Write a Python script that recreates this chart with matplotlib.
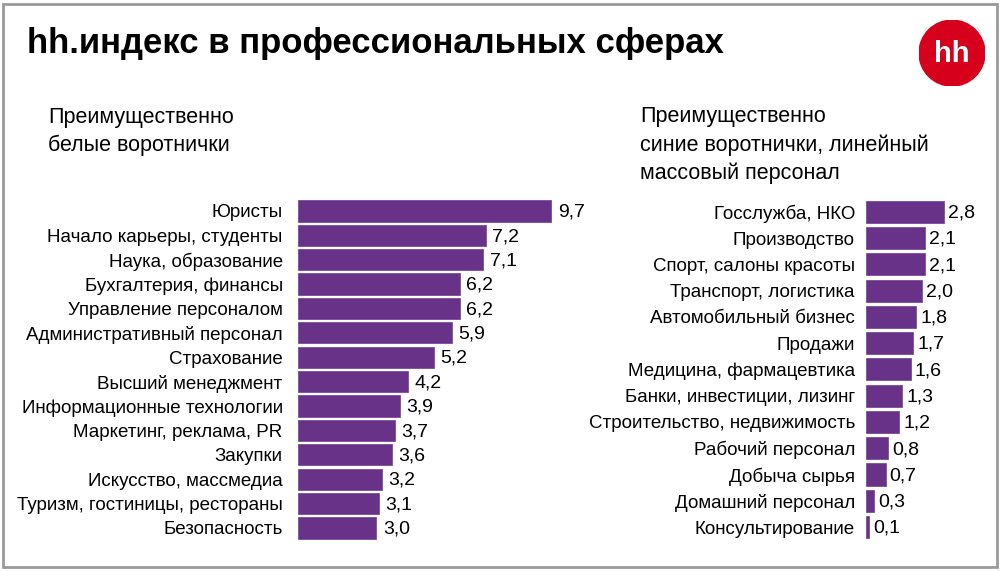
import matplotlib
matplotlib.use("Agg")
import matplotlib.pyplot as plt
from matplotlib.patches import Circle, Rectangle

plt.rcParams["font.family"] = ["Liberation Sans", "DejaVu Sans"]

white_labels = [
    "Юристы",
    "Начало карьеры, студенты",
    "Наука, образование",
    "Бухгалтерия, финансы",
    "Управление персоналом",
    "Административный персонал",
    "Страхование",
    "Высший менеджмент",
    "Информационные технологии",
    "Маркетинг, реклама, PR",
    "Закупки",
    "Искусство, массмедиа",
    "Туризм, гостиницы, рестораны",
    "Безопасность",
]
white_values = [9.7, 7.2, 7.1, 6.2, 6.2, 5.9, 5.2, 4.2, 3.9, 3.7, 3.6, 3.2, 3.1, 3.0]

blue_labels = [
    "Госслужба, НКО",
    "Производство",
    "Спорт, салоны красоты",
    "Транспорт, логистика",
    "Автомобильный бизнес",
    "Продажи",
    "Медицина, фармацевтика",
    "Банки, инвестиции, лизинг",
    "Строительство, недвижимость",
    "Рабочий персонал",
    "Добыча сырья",
    "Домашний персонал",
    "Консультирование",
]
blue_values = [2.8, 2.1, 2.1, 2.0, 1.8, 1.7, 1.6, 1.3, 1.2, 0.8, 0.7, 0.3, 0.1]

BAR_COLOR = "#673287"
LABEL_SIZE = 13.5


def draw_panel(ax, labels, values, xmax, height, gap, pad):
    y = list(range(len(values)))
    ax.barh(y, values, height=height, color=BAR_COLOR, edgecolor="#7d4a9c", linewidth=0.6)
    ax.set_ylim(len(values) - 0.5, -0.5)
    ax.set_xlim(0, xmax)
    ax.set_yticks(y)
    ax.set_yticklabels(labels, fontsize=LABEL_SIZE)
    ax.tick_params(axis="y", length=0, pad=pad)
    ax.set_xticks([])
    for spine in ax.spines.values():
        spine.set_visible(False)
    for yi, v in zip(y, values):
        ax.text(v + gap, yi + 0.05, f"{v:.1f}".replace(".", ","), va="center", ha="left",
                fontsize=LABEL_SIZE + 0.5)


fig = plt.figure(figsize=(10, 5.71), dpi=100)

ax_left = fig.add_axes([0.298, 0.054, 0.261, 0.598])
draw_panel(ax_left, white_labels, white_values, 10, 0.87, 0.25, 11)

ax_right = fig.add_axes([0.866, 0.054, 0.0837, 0.598])
draw_panel(ax_right, blue_labels, blue_values, 3, 0.84, 0.15, 8)

fig.text(0.027, 0.924, "hh.индекс в профессиональных сферах", fontsize=25,
         fontweight="bold", va="center", ha="left")
fig.text(0.048, 0.770, "Преимущественно\nбелые воротнички", fontsize=15.5,
         va="center", ha="left", linespacing=1.4)
fig.text(0.640, 0.746, "Преимущественно\nсиние воротнички, линейный\nмассовый персонал",
         fontsize=15.5, va="center", ha="left", linespacing=1.4)

# logo
logo_ax = fig.add_axes([0.919, 0.849, 0.066, 0.116])
logo_ax.set_xlim(-1, 1)
logo_ax.set_ylim(-1, 1)
logo_ax.set_aspect("equal")
logo_ax.axis("off")
logo_ax.add_patch(Circle((0, 0), 1, color="#d6001c"))
logo_ax.text(0, -0.02, "hh", color="white", fontsize=21, fontweight="bold",
             ha="center", va="center")

# outer frame
fig.patches.append(Rectangle((0.003, 0.007), 0.994, 0.986, transform=fig.transFigure,
                             fill=False, edgecolor="#9a9a9a", linewidth=2))

fig.savefig("out.png", dpi=100)
